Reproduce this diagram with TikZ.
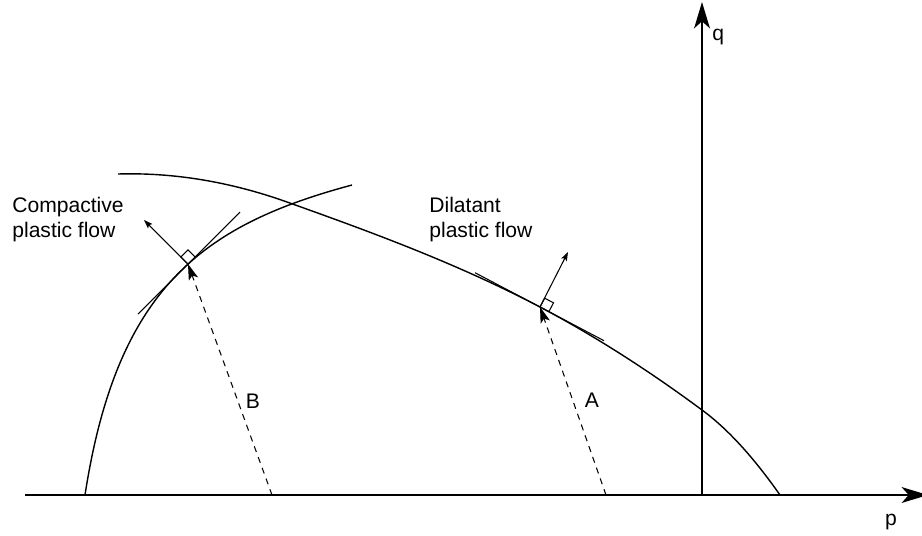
\documentclass[tikz,border=0pt]{standalone}
\usepackage{fontspec}
\setmainfont{Liberation Sans}
\usetikzlibrary{arrows.meta}

\begin{document}
\begin{tikzpicture}[x=0.02cm, y=-0.02cm,
    axis/.style={line width=1.1pt, -{Stealth[length=15pt, width=9pt, inset=4pt]}},
    yield/.style={line width=0.8pt},
    tang/.style={line width=0.6pt},
    flow/.style={line width=0.6pt, -{Stealth[length=5pt, width=3.5pt, inset=1pt]}},
    load/.style={line width=0.6pt, dash pattern=on 3.5pt off 3pt, -{Stealth[length=9pt, width=5.5pt, inset=2pt]}},
    lbl/.style={font=\fontsize{12}{14.2}\selectfont, inner sep=0pt}]
        \useasboundingbox (0,0) rectangle (922,535);

        % Axes
        \coordinate (pstart) at (25,495);
        \coordinate (pend) at (928,495);
        \coordinate (O) at (702,495);
        \coordinate (qend) at (702,2);
        \draw[axis] (pstart) -- (pend);
        \draw[axis] (O) -- (qend);
        \node[lbl, anchor=base] (plabel) at (891,525) {p};
        \node[lbl, anchor=base west] (qlabel) at (712,40) {q};

        % Yield surface
        \draw[yield] (118,174) .. controls (174,172.3) and (231,182) .. (287,202)
            .. controls (371,232) and (456,263) .. (540,307)
            .. controls (594,335.5) and (648,370) .. (702,410)
            .. controls (728,429) and (754,458) .. (780,495);

        % Cap surface
        \draw[yield] (85,495) .. controls (117,287.5) and (203,225) .. (352,185);

        % Point B: compactive flow
        \coordinate (B) at (188,264);
        \coordinate (Bp) at (272,495);
        \coordinate (Bn) at (144,220);
        \draw[tang] (138,314) -- (240,212);
        \draw[tang] (B) -- ++(-7.07,-7.07) -- ++(7.07,-7.07) -- ++(7.07,7.07);
        \draw[flow] (B) -- (Bn);
        \draw[load] (Bp) -- (B);
        \node[lbl] (blabel) at (253,401) {B};

        % Point A: dilatant flow
        \coordinate (A) at (540,307);
        \coordinate (Ap) at (606,495);
        \coordinate (An) at (568,252);
        \draw[tang] (475,272.7) -- (604,340.7);
        \draw[tang] (A) -- ++(4.66,-8.85) -- ++(8.85,4.66) -- ++(-4.66,8.85);
        \draw[flow] (A) -- (An);
        \draw[load] (Ap) -- (A);
        \node[lbl] (alabel) at (592,400) {A};

        % Flow labels
        \node[lbl, anchor=base west, align=left] (compact) at (12,237) {Compactive\\plastic flow};
        \node[lbl, anchor=base west, align=left] (dilat) at (429,237) {Dilatant\\plastic flow};
    \end{tikzpicture}
\end{document}
